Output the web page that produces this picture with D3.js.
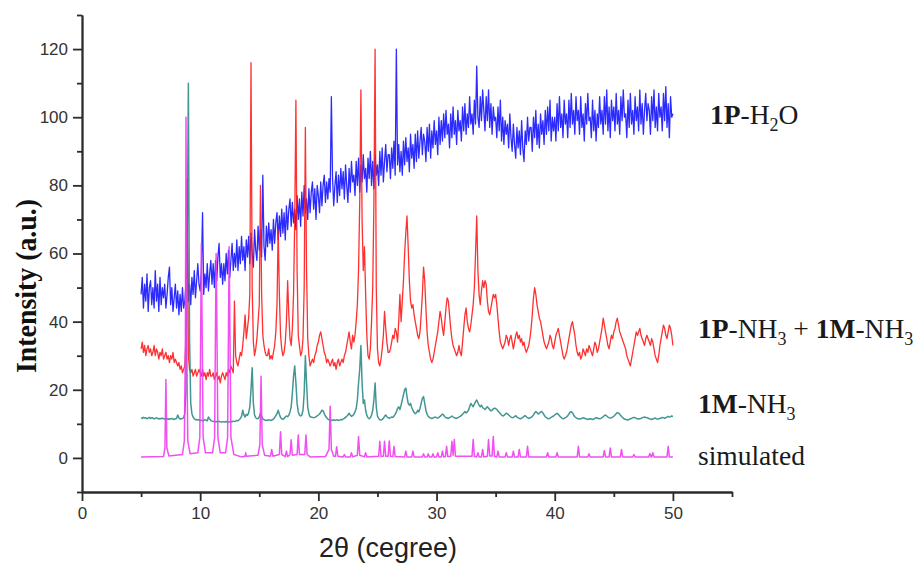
<!DOCTYPE html>
<html>
<head>
<meta charset="utf-8">
<script src="https://cdn.jsdelivr.net/npm/d3@7"></script>
<style>
  body { margin: 0; background: #fff; }
  svg { display: block; }
</style>
</head>
<body>
<svg id="chart" width="919" height="568"></svg>
<script>
// 2theta grid of the measured patterns (5 to 50 degree, 0.1 step)
const twoTheta = d3.range(451).map(i => +(5 + i * 0.1).toFixed(1));

// 1P-H2O (blue), one line per degree
const p1H2O = `
48 53 44 51 46 54 43 50 52 45
50 44 55 46 51 43 53 45 50 47
51 44 48 53 56 45 50 43 47 51
44 49 42 48 43 50 44 46 51 68
46 51 45 53 48 55 47 52 57 51
49 55 72 48 54 50 57 49 54 58
51 57 50 58 52 59 63 53 57 51
57 52 60 54 61 53 58 63 55 60
56 64 55 62 57 65 58 62 55 64
59 65 57 66 60 56 67 61 58 68
61 67 59 83 62 58 68 62 69 63
67 61 70 63 69 72 64 71 65 73
66 72 64 74 67 73 76 68 75 69
73 67 77 70 76 68 78 71 80 72
76 70 79 72 78 81 73 79 70 80
77 72 81 74 80 83 75 81 76 82
78 106 82 74 80 84 75 83 77 85
79 84 76 86 80 75 85 78 87 81
83 77 87 80 88 78 86 81 89 82
85 78 88 82 90 80 87 79 89 83
86 80 90 83 91 81 87 92 84 89
89 82 91 85 93 83 120 86 92 84
90 83 93 86 94 87 91 84 95 88
92 85 95 87 96 88 93 97 89 95
93 87 97 90 98 88 96 91 99 92
96 89 100 92 99 93 101 94 102 95
98 91 101 94 103 95 99 92 102 96
99 93 103 96 104 95 101 97 106 98
101 95 105 98 115 100 97 106 99 108
102 96 106 99 108 97 104 95 103 99
100 94 103 96 105 93 100 92 99 95
98 91 101 94 90 98 92 88 97 91
96 89 99 91 87 96 92 100 93 97
97 90 100 94 102 92 98 91 101 95
99 92 102 95 103 96 105 93 100 96
100 93 104 96 106 97 101 94 105 98
101 94 105 97 107 98 102 95 106 99
102 95 106 97 101 93 104 98 107 99
100 94 105 96 102 93 101 97 106 98
102 95 106 98 108 96 103 94 105 99
103 96 107 98 102 95 106 99 108 100
101 94 105 97 107 98 102 95 106 99
103 96 108 98 104 95 102 107 99 104
102 95 106 99 108 97 103 96 107 100
103 96 107 99 109 97 104 94 106 100
101`;

// 1P-NH3 + 1M-NH3 (red)
const mixNH3 = `
32 34 31 33 30 32 33 31 32 30
31 33 30 32 31 29 31 30 32 29
30 31 29 30 28 30 29 31 28 29
28 27 28 26 27 25 26 27 35 82
30 26 25 26 24 25 26 24 25 26
25 24 26 24 25 23 25 24 26 24
24 25 23 24 25 23 24 22 24 25
24 23 25 24 26 25 27 26 25 46
30 28 27 29 31 30 33 37 42 35
38 41 48 116 50 34 30 32 35 40
45 80 48 36 33 31 30 30 32 29
30 29 31 33 37 45 67 48 36 32
30 31 34 40 52 42 35 33 38 48
70 105 55 36 33 30 31 35 50 97
55 35 30 27 28 29 28 30 31 33
34 36 37 35 33 31 30 28 29 28
27 28 29 27 28 26 28 29 27 28
29 28 30 31 33 35 37 34 32 36
34 36 40 45 55 75 108 70 55 62
48 36 30 29 32 40 50 75 120 50
32 28 27 29 32 36 43 38 34 31
31 32 34 36 35 38 37 34 40 48
40 46 52 60 66 71 62 52 46 44
45 42 40 38 36 35 37 42 48 56
52 44 37 33 31 29 28 29 31 33
35 37 40 43 41 38 36 40 44 47
46 42 38 35 33 32 31 30 31 33
31 30 34 38 42 44 40 38 37 39
42 45 50 60 71 55 48 45 49 52
50 52 51 46 43 42 44 46 48 47
48 45 41 37 34 33 32 33 34 36
35 33 35 36 34 32 34 36 37 35
36 34 35 33 34 32 31 32 33 35
38 42 47 50 48 45 43 41 40 38
36 34 33 32 33 34 36 35 33 32
34 36 37 38 36 34 32 30 29 30
31 33 35 37 39 40 38 36 33 31
30 31 29 30 32 31 30 32 31 33
32 31 30 32 34 33 31 32 34 36
38 41 39 37 35 33 32 34 36 35
37 38 40 41 39 37 36 35 34 33
32 30 29 28 27 29 31 33 35 37
36 37 38 36 35 34 33 35 36 35
34 33 35 34 32 30 29 28 30 33
35 37 39 38 36 35 37 39 38 36
33`;

// 1M-NH3 (teal)
const m1NH3 = `
11.8 11.6 11.9 11.7 11.8 11.5 11.7 11.9 11.6 11.8
11.7 11.5 11.6 11.8 11.6 11.4 11.6 11.5 11.7 11.5
11.4 11.6 11.5 11.3 11.5 11.4 11.6 11.4 11.3 11.5
11.6 12.6 11.8 11.4 11.5 11.6 11.8 13 20 60
110 35 16 13 12 11.5 11.2 11.3 11.1 11.2
11 11.1 10.9 11 11.2 11.1 10.9 12 11.4 11
10.8 10.7 10.8 10.6 10.7 10.6 10.8 10.6 10.5 10.6
10.6 10.5 10.7 10.6 10.5 10.6 10.7 10.6 10.8 10.7
10.8 11 10.9 11.2 11.6 12.2 14 12.6 12 12.8
12.5 13.2 15 20 26.5 16 12.6 11.8 11.5 11.6
12 13.1 12.2 11.5 11.2 11 11.1 11 11.2 11.1
11 11.2 11.4 11.8 12.4 13 14 12.8 11.9 11.5
11.3 11.6 12 12.3 12.1 12.5 13.5 15 19 24
27 22 16 13.5 12.6 12.3 12.6 14 19 30
22 15 13 12.1 12 11.9 11.8 11.9 12.1 12.3
12.6 12.9 13.4 14 13.8 13 12.3 11.8 11.4 11.2
11.1 11.1 11 11.2 11 11.1 11.2 11 11.1 11.3
11.2 11.4 11.6 11.9 12.2 12.6 13.1 12.6 12.2 12.4
12.8 13.5 14.5 17 22 26 33 22 16 17
14 12.5 11.8 11.5 11.8 12.6 14 17 22 15
12.3 11.6 11.2 11.1 11.3 11.6 12.2 12.6 12.1 11.8
11.6 11.8 12 11.9 12.3 12.8 13.5 14.5 15 14.2
15.5 17 18.5 20 20.5 18 16 15.5 16 14.8
14 13.4 13 13.2 14 13.5 14.5 16 17.5 18
16 14 12.8 12.2 11.9 11.7 11.6 11.7 11.9 12
11.8 11.7 11.9 12.2 12.5 12.9 12.6 12.1 11.8 11.7
11.6 11.8 12 12.3 12 11.8 11.7 11.6 11.8 12
12.2 12.5 12.8 13.2 13.6 13.2 13.5 14 15 16
15.5 15 15.8 16.5 17 16.2 15.5 15 15.5 14.8
14.5 14.2 14.7 15 14.6 14.2 13.8 14 14.4 14.6
14.5 14.2 13.8 13.4 13 12.6 12.3 12.5 12.8 13.1
13 12.6 12.3 12 11.8 11.9 12.1 12.4 12 11.8
11.6 11.5 11.7 11.9 12.2 12.4 12.1 11.8 11.6 11.7
11.9 12.2 12.6 13.2 13.6 13.3 12.9 13.1 13.5 13.6
13.2 12.6 12.1 11.8 11.6 11.5 11.7 11.9 12.1 12.3
12.6 12.9 13.1 12.8 12.4 12 11.7 11.5 11.6 11.8
12 12.4 12.9 13.4 13.6 13.2 12.6 12.1 11.8 11.6
11.5 11.4 11.5 11.6 11.8 11.7 11.5 11.4 11.3 11.4
11.5 11.4 11.3 11.4 11.6 11.8 11.7 11.6 11.5 11.6
11.8 12.1 12.4 12.6 12.3 12 11.8 11.7 11.8 12
12.2 12.6 13 13.3 13.2 12.8 12.4 12 11.7 11.4
11.3 11.2 11.1 11.3 11.5 11.6 11.8 11.9 11.8 11.6
11.5 11.4 11.5 11.6 11.8 11.9 12 11.9 11.8 11.7
11.5 11.4 11.3 11.4 11.6 11.7 11.5 11.4 11.5 11.6
11.7 11.9 11.8 11.6 11.8 12 12.2 12 12.1 12.3
12.1`;

// simulated pattern, [2theta, intensity] points
const simulated = [
  [5,0.3],[6.9,0.4],[7.02,3],[7.1,23],[7.18,3],[7.35,0.6],
  [8.5,1],[8.66,5],[8.75,35],[8.8,100],[8.86,35],[8.95,5],[9.15,1.2],
  [9.8,1.5],[9.97,6],[10.05,40],[10.1,63],[10.16,40],[10.25,6],[10.45,1.5],
  [11.05,1.5],[11.22,6],[11.3,40],[11.35,60],[11.41,40],[11.5,6],[11.7,1.5],
  [12.15,1.5],[12.32,6],[12.4,40],[12.45,62],[12.51,40],[12.6,6],[12.85,1],
  [13.5,0.3],[13.8,0.5],[13.85,1.5],[13.9,0.5],
  [14.9,0.8],[15.05,4],[15.15,24],[15.25,4],[15.45,0.8],
  [15.95,0.5],[16.05,2.5],[16.15,0.5],[16.7,1],[16.8,7.7],[16.9,1],
  [17.2,0.4],[17.3,2],[17.4,0.4],[17.6,1],[17.7,5.3],[17.8,0.8],
  [18.2,1],[18.3,6.7],[18.4,1],[18.85,1],[18.95,6.7],[19.05,1],[19.3,0.3],
  [20.6,0.4],[20.9,2.5],[21.0,15.2],[21.1,2.5],[21.3,0.5],
  [21.45,0.5],[21.55,3.3],[21.65,0.5],[22.1,0.3],[22.2,1],[22.3,0.3],
  [22.7,0.3],[22.8,1.5],[22.9,0.3],[23.3,0.8],[23.4,6.3],[23.5,0.8],
  [23.9,0.3],[24.0,1.5],[24.1,0.3],
  [25.1,0.5],[25.2,4.9],[25.3,0.5],[25.5,0.5],[25.6,4.9],[25.7,0.5],
  [25.9,0.5],[26.0,5],[26.1,0.5],[26.3,0.4],[26.4,3.4],[26.5,0.4],
  [27.3,0.3],[27.4,2],[27.5,0.3],[27.9,0.3],[28.0,2],[28.1,0.3],
  [28.8,0.3],[28.9,1.2],[29.0,0.3],[29.2,0.3],[29.3,1.2],[29.4,0.3],
  [29.6,0.3],[29.7,1.2],[29.8,0.3],[30.0,0.3],[30.1,1.5],[30.2,0.3],
  [30.4,0.3],[30.5,2],[30.6,0.3],[30.75,0.4],[30.85,3.4],[30.95,0.4],
  [31.2,0.5],[31.3,4.9],[31.4,0.8],[31.5,5.4],[31.6,0.5],
  [33.0,0.5],[33.1,5.4],[33.2,0.5],[33.4,0.3],[33.5,1.5],[33.6,0.3],
  [33.8,0.3],[33.9,2.5],[34.0,0.3],[34.3,0.5],[34.4,5.4],[34.5,0.6],
  [34.7,0.6],[34.8,6.3],[34.9,0.5],[35.1,0.3],[35.2,2],[35.3,0.3],
  [35.8,0.3],[35.9,1.5],[36.0,0.3],[36.4,0.3],[36.5,2],[36.6,0.3],
  [36.9,0.3],[37.0,2.5],[37.1,0.3],[37.6,0.3],[37.7,3.4],[37.8,0.3],
  [39.3,0.3],[39.4,1.5],[39.5,0.3],[40.1,0.3],[40.2,1.5],[40.3,0.3],
  [41.9,0.3],[42.0,3.4],[42.1,0.3],[42.8,0.3],[42.9,1.2],[43.0,0.3],
  [44.1,0.3],[44.2,2.2],[44.3,0.3],[44.6,0.3],[44.7,2.9],[44.8,0.3],
  [45.55,0.3],[45.65,2.5],[45.75,0.3],[46.6,0.3],[46.7,1],[46.8,0.3],
  [47.95,0.3],[48.05,1.3],[48.15,0.3],[48.2,0.3],[48.3,1.5],[48.4,0.3],
  [49.5,0.3],[49.6,3.4],[49.7,0.3],[50,0.3]
];

const xMajor = [0, 10, 20, 30, 40, 50];
const xMinor = [5, 15, 25, 35, 45, 55];
const yMajor = [0, 20, 40, 60, 80, 100, 120];
const yMinor = [-10, 10, 30, 50, 70, 90, 110, 130];

const parse = s => s.trim().split(/\s+/).map(Number);
const toPoints = vals => vals.map((v, i) => [twoTheta[i], v]);

const series = [
  { name: "1P-H2O", color: "#1414ff", width: 1.3, points: toPoints(parse(p1H2O)) },
  { name: "mix", color: "#ff1a1a", width: 1.3, points: toPoints(parse(mixNH3)) },
  { name: "1M-NH3", color: "#2e8b87", width: 1.5, points: toPoints(parse(m1NH3)) },
  { name: "simulated", color: "#f03cf0", width: 1.5, points: simulated }
];

const svg = d3.select("#chart");
const x = d3.scaleLinear().domain([0, 55]).range([82, 732]);
const y = d3.scaleLinear().domain([-10, 130]).range([492, 15]);

const line = d3.line().x(d => x(d[0])).y(d => y(d[1]));

svg.append("g")
  .selectAll("path")
  .data(series)
  .join("path")
    .attr("d", d => line(d.points))
    .attr("fill", "none")
    .attr("stroke", d => d.color)
    .attr("stroke-width", d => d.width)
    .attr("stroke-linejoin", "round")
    .attr("stroke-opacity", 0.9);

// axes
const axisColor = "#2b2b2b";
const tickFont = "'Liberation Sans', Arial, sans-serif";

svg.append("g").attr("transform", `translate(0,${y(-10)})`)
  .call(d3.axisBottom(x).tickValues(xMajor).tickSize(9).tickPadding(6).tickSizeOuter(0));
svg.append("g").attr("transform", `translate(0,${y(-10)})`)
  .call(d3.axisBottom(x).tickValues(xMinor).tickSize(5).tickFormat("").tickSizeOuter(0));

svg.append("g").attr("transform", `translate(${x(0)},0)`)
  .call(d3.axisLeft(y).tickValues(yMajor).tickSize(9).tickPadding(5).tickSizeOuter(0));
svg.append("g").attr("transform", `translate(${x(0)},0)`)
  .call(d3.axisLeft(y).tickValues(yMinor).tickSize(5).tickFormat("").tickSizeOuter(0));

svg.selectAll(".domain, .tick line")
  .attr("stroke", axisColor)
  .attr("stroke-width", 1.8);
svg.selectAll(".tick text")
  .attr("fill", "#333")
  .style("font-family", tickFont)
  .style("font-size", "17px");

// axis titles
svg.append("text")
  .attr("x", 388)
  .attr("y", 557)
  .attr("text-anchor", "middle")
  .attr("fill", "#222")
  .style("font-family", tickFont)
  .style("font-size", "27px")
  .text("2θ (cegree)");

const serif = "'Liberation Serif', 'Times New Roman', serif";

svg.append("text")
  .attr("transform", "translate(36,286) rotate(-90)")
  .attr("text-anchor", "middle")
  .attr("textLength", 174)
  .attr("lengthAdjust", "spacingAndGlyphs")
  .attr("fill", "#111")
  .style("font-family", serif)
  .style("font-weight", "bold")
  .style("font-size", "29px")
  .text("Intensity (a.u.)");

// series labels
const labels = [
  { x: 710, y: 124, parts: [["1P", "b"], ["-H", ""], ["2", "sub"], ["O", ""]] },
  { x: 698, y: 338, parts: [["1P", "b"], ["-NH", ""], ["3", "sub"], [" + ", ""], ["1M", "b"], ["-NH", ""], ["3", "sub"]] },
  { x: 698, y: 413, parts: [["1M", "b"], ["-NH", ""], ["3", "sub"]] },
  { x: 698, y: 465, parts: [["simulated", ""]] }
];

labels.forEach(l => {
  const t = svg.append("text")
    .attr("x", l.x)
    .attr("y", l.y)
    .attr("fill", "#1a1a1a")
    .style("font-family", serif)
    .style("font-size", "27.5px");
  let wasSub = false;
  l.parts.forEach(([txt, kind]) => {
    const s = t.append("tspan").text(txt);
    if (kind === "b") s.style("font-weight", "bold");
    if (kind === "sub") {
      s.style("font-size", "18px").attr("dy", 7);
      wasSub = true;
    } else if (wasSub) {
      s.attr("dy", -7);
      wasSub = false;
    }
  });
});
</script>
</body>
</html>
